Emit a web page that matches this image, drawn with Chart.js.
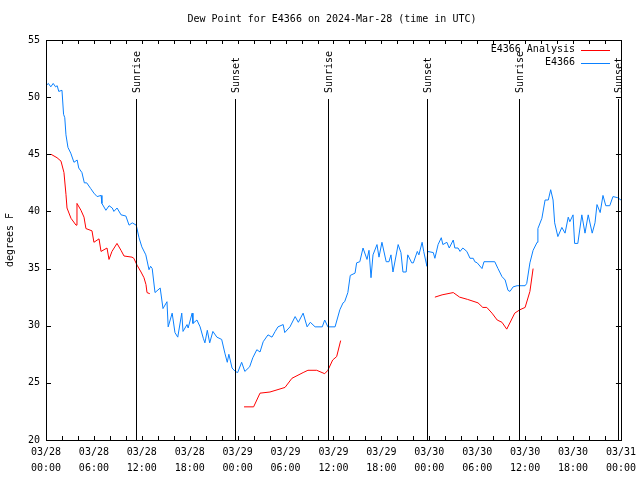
<!DOCTYPE html>
<html>
<head>
<meta charset="utf-8">
<title>Dew Point for E4366</title>
<script src="https://cdn.jsdelivr.net/npm/chart.js@4"></script>
<style>
  html, body { margin: 0; padding: 0; background: #fff; }
  canvas { display: block; }
</style>
</head>
<body>
<canvas id="dewChart" width="640" height="480"></canvas>
<script>
// Hours since 2024-03-28 00:00 UTC and dew point (F) for the station obs
const obsHours = [0, 0.3, 0.6, 0.9, 1.2, 1.4, 1.6, 2.0, 2.2, 2.35, 2.5, 2.75, 3.1, 3.5, 3.9, 4.1, 4.5, 4.8, 5.1, 5.6,
    6.0, 6.4, 6.9, 7.0, 7.5, 7.9, 8.3, 8.5, 8.9, 9.4, 10.0, 10.4, 10.8, 11.3, 11.65, 12.0, 12.5, 12.9, 13.1, 13.3,
    13.65, 14.3, 14.65, 15.15, 15.3, 15.8, 16.15, 16.5, 17.0, 17.16, 17.66, 17.8, 18.3, 18.4, 18.9, 19.3, 19.7, 19.9, 20.2, 20.5,
    20.9, 21.4, 22.0, 22.4, 22.7, 22.9, 23.3, 23.7, 24.0, 24.5, 24.9, 25.5, 25.9, 26.4, 26.8, 27.2, 27.8, 28.3, 28.7, 29.05,
    29.7, 29.9, 30.55, 31.2, 31.6, 32.2, 32.7, 33.1, 33.7, 34.6, 34.9, 35.3, 36.2, 36.8, 37.2, 37.4, 37.8, 38.1, 38.7, 38.9,
    39.3, 39.7, 40.2, 40.45, 40.7, 40.95, 41.45, 41.7, 42.07, 42.6, 42.95, 43.2, 43.45, 44.1, 44.45, 44.7, 45.1, 45.3, 45.8, 46.0,
    46.5, 46.7, 47.1, 47.3, 47.7, 47.8, 48.5, 48.7, 49.1, 49.5, 49.7, 50.2, 50.5, 51.0, 51.2, 51.6, 51.85, 52.2, 52.7, 53.1,
    53.5, 53.7, 54.0, 54.6, 54.85, 56.2, 56.6, 57.1, 57.5, 57.85, 58.1, 58.5, 59.0, 59.6, 60.0, 60.2, 60.6, 61.0, 61.5, 61.6,
    62.1, 62.5, 62.9, 63.2, 63.5, 63.7, 64.1, 64.6, 65.0, 65.4, 65.6, 66.0, 66.2, 66.6, 67.1, 67.5, 67.9, 68.4, 68.75, 69.0,
    69.4, 69.75, 70.1, 70.6, 71.0, 71.6, 72.0];
const obsDew = [51.0, 51.2, 50.9, 51.2, 50.9, 51.0, 50.5, 50.6, 48.5, 48.2, 46.7, 45.6, 45.1, 44.3, 44.5, 43.8, 43.4, 42.5, 42.5, 42.0,
    41.6, 41.3, 41.4, 40.7, 40.1, 40.5, 40.3, 40.0, 40.3, 39.7, 39.6, 38.8, 39.0, 38.8, 37.7, 36.9, 36.2, 34.9, 35.2, 35.0,
    32.9, 33.3, 31.5, 32.1, 29.9, 31.1, 29.4, 29.0, 31.1, 29.5, 30.1, 29.8, 31.1, 30.2, 30.5, 29.9, 28.9, 28.5, 29.6, 28.5,
    29.5, 29.0, 28.8, 27.6, 26.8, 27.5, 26.3, 26.0, 25.9, 26.8, 26.0, 26.4, 27.2, 27.9, 27.7, 28.6, 29.2, 29.0, 29.5, 29.9,
    30.1, 29.4, 29.9, 30.8, 30.3, 31.1, 29.9, 30.3, 29.9, 29.9, 30.5, 29.9, 29.9, 31.4, 32.0, 32.1, 32.9, 34.4, 34.6, 35.5,
    35.6, 36.8, 35.8, 36.6, 34.2, 36.2, 37.1, 36.0, 37.3, 35.6, 35.6, 36.2, 34.7, 37.1, 36.4, 34.7, 34.7, 36.2, 35.5, 35.5,
    36.5, 36.2, 37.3, 36.5, 35.2, 36.5, 36.4, 35.9, 37.1, 37.7, 37.1, 37.3, 36.8, 37.5, 36.8, 36.8, 36.5, 36.8, 36.5, 35.9,
    35.9, 35.6, 35.5, 35.0, 35.6, 35.6, 35.0, 34.3, 34.0, 33.1, 33.0, 33.4, 33.5, 33.5, 33.5, 33.7, 35.5, 36.6, 37.3, 38.5,
    39.4, 41.0, 41.0, 41.9, 41.0, 39.0, 37.8, 38.6, 38.1, 39.5, 39.1, 39.7, 37.2, 37.2, 39.7, 38.1, 39.7, 38.1, 39.0, 40.6,
    39.9, 41.4, 40.5, 40.5, 41.3, 41.2, 41.0];

// Analysis series, null marks a gap between runs
const anlHours = [0.63, 1.38, 1.88, 2.25, 2.5, 2.63, 3.13, 3.76, 3.88, 4.38, 4.76, 5.0, 5.76, 6.0, 6.64, 6.89, 7.64, 7.89, 8.26, 8.89,
    9.39, 9.77, 10.77, 11.0, 11.4, 11.9, 12.27, 12.52, 12.65, 13.0,
    18.0,
    24.8, 26.0, 26.8, 28.05, 29.93, 30.8, 32.2, 32.8, 33.9, 34.9, 35.3, 35.9, 36.4, 36.9,
    42.0,
    48.7, 49.6, 51.0, 51.8, 52.8, 54.1, 54.7, 55.2, 55.85, 56.5, 57.1, 57.7, 58.7, 59.35, 60.0, 60.6, 61.0];
const anlDew = [45.0, 44.7, 44.4, 43.4, 41.5, 40.3, 39.4, 38.8, 40.7, 40.1, 39.5, 38.5, 38.3, 37.3, 37.6, 36.5, 36.8, 35.8, 36.5, 37.2,
    36.6, 36.1, 36.0, 35.9, 35.3, 34.7, 34.2, 33.6, 32.9, 32.8,
    null,
    22.9, 22.9, 24.1, 24.2, 24.6, 25.4, 25.9, 26.1, 26.1, 25.8, 26.1, 27.0, 27.3, 28.7,
    null,
    32.5, 32.7, 32.9, 32.5, 32.3, 32.0, 31.6, 31.6, 31.1, 30.5, 30.3, 29.7, 31.1, 31.4, 31.6, 33.0, 35.0];

// Sunrise / sunset times (hours since start)
const sunHours = [11.27, 23.67, 35.31, 47.71, 59.23, 71.62];
const sunLabels = ['Sunrise', 'Sunset', 'Sunrise', 'Sunset', 'Sunrise', 'Sunset'];

const seriesNames = ['E4366 Analysis', 'E4366'];
const seriesColors = ['#ff0000', '#0a80ff'];

const FONT = '10px "DejaVu Sans Mono", monospace';

function toPoints(xs, ys) {
    return xs.map((h, i) => ({ x: h, y: ys[i] }));
}

function tickLabel(v) {
    if (v % 6 !== 0) return '';
    const day = 28 + Math.floor(v / 24);
    const hh = v % 24;
    return ['03/' + day, String(hh).padStart(2, '0') + ':00'];
}

// frame, inward tick marks, sun lines, title and legend
const decorations = {
    id: 'decorations',
    afterDatasetsDraw(chart) {
        const ctx = chart.ctx;
        const area = chart.chartArea;
        const xs = chart.scales.x;
        const ys = chart.scales.y;
        ctx.save();
        ctx.strokeStyle = '#000';
        ctx.fillStyle = '#000';
        ctx.lineWidth = 1;
        ctx.font = FONT;

        // sunrise / sunset markers
        sunHours.forEach((h, i) => {
            const px = Math.round(xs.getPixelForValue(h)) + 0.5;
            ctx.beginPath();
            ctx.moveTo(px, area.top + 59);
            ctx.lineTo(px, area.bottom);
            ctx.stroke();
            ctx.save();
            ctx.translate(px + 1, area.top + 53);
            ctx.rotate(-Math.PI / 2);
            ctx.textAlign = 'left';
            ctx.textBaseline = 'middle';
            ctx.fillText(sunLabels[i], 0, 0);
            ctx.restore();
        });

        // border
        ctx.strokeRect(Math.round(area.left) + 0.5, Math.round(area.top) + 0.5,
            Math.round(area.right - area.left), Math.round(area.bottom - area.top));

        // tick marks pointing inwards, mirrored on the opposite side
        xs.ticks.forEach(t => {
            const px = Math.round(xs.getPixelForValue(t.value)) + 0.5;
            ctx.beginPath();
            ctx.moveTo(px, area.bottom);
            ctx.lineTo(px, area.bottom - 4);
            ctx.moveTo(px, area.top);
            ctx.lineTo(px, area.top + 4);
            ctx.stroke();
        });
        ys.ticks.forEach(t => {
            const py = Math.round(ys.getPixelForValue(t.value)) + 0.5;
            ctx.beginPath();
            ctx.moveTo(area.left, py);
            ctx.lineTo(area.left + 5, py);
            ctx.moveTo(area.right, py);
            ctx.lineTo(area.right - 5, py);
            ctx.stroke();
        });

        // title
        ctx.textAlign = 'center';
        ctx.textBaseline = 'middle';
        ctx.fillText('Dew Point for E4366 on 2024-Mar-28 (time in UTC)', 332, 19);

        // y axis title
        ctx.save();
        ctx.translate(10, 240);
        ctx.rotate(-Math.PI / 2);
        ctx.fillText('degrees F', 0, 0);
        ctx.restore();

        // legend
        seriesNames.forEach((name, i) => {
            const y = area.top + 9.5 + i * 13;
            ctx.textAlign = 'right';
            ctx.fillStyle = '#000';
            ctx.fillText(name, 575, y);
            ctx.strokeStyle = seriesColors[i];
            ctx.beginPath();
            ctx.moveTo(581, Math.round(y) + 0.5);
            ctx.lineTo(610, Math.round(y) + 0.5);
            ctx.stroke();
        });
        ctx.restore();
    }
};

const config = {
    type: 'line',
    data: {
        datasets: [{
            label: seriesNames[0],
            data: toPoints(anlHours, anlDew),
            borderColor: seriesColors[0],
            borderWidth: 1,
            pointRadius: 0,
            spanGaps: false,
            order: 2
        }, {
            label: seriesNames[1],
            data: toPoints(obsHours, obsDew),
            borderColor: seriesColors[1],
            borderWidth: 1,
            pointRadius: 0,
            order: 1
        }]
    },
    options: {
        responsive: false,
        animation: false,
        events: [],
        layout: { padding: { top: 40, right: 19, left: 0, bottom: 0 } },
        plugins: {
            legend: { display: false },
            tooltip: { enabled: false }
        },
        elements: { line: { tension: 0 } },
        scales: {
            x: {
                type: 'linear',
                min: 0,
                max: 72,
                afterFit: s => { s.height = 40; },
                border: { display: false },
                grid: { display: false, drawTicks: false },
                ticks: {
                    stepSize: 2,
                    autoSkip: false,
                    maxRotation: 0,
                    padding: 4,
                    color: '#000',
                    font: { family: '"DejaVu Sans Mono", monospace', size: 10, lineHeight: '16px' },
                    callback: v => tickLabel(v)
                }
            },
            y: {
                min: 20,
                max: 55,
                afterFit: s => { s.width = 46; },
                border: { display: false },
                grid: { display: false, drawTicks: false },
                ticks: {
                    stepSize: 5,
                    padding: 6,
                    color: '#000',
                    font: { family: '"DejaVu Sans Mono", monospace', size: 10 }
                }
            }
        }
    },
    plugins: [decorations]
};

let dewChart = new Chart(document.getElementById('dewChart'), config);
</script>
</body>
</html>
